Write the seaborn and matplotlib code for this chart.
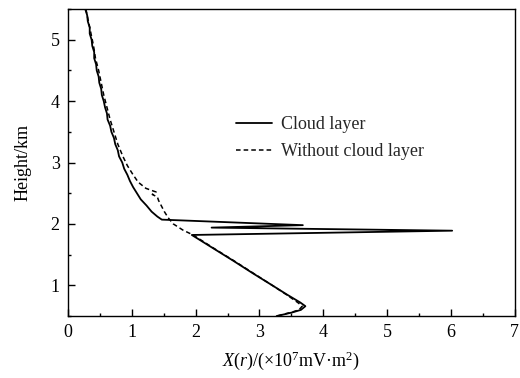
import numpy as np
import pandas as pd
import seaborn as sns
import matplotlib
matplotlib.use("Agg")
import matplotlib.pyplot as plt
from matplotlib.ticker import MultipleLocator

# Cloud layer (solid)
cloud_h = [5.50, 5.40, 5.30, 5.20, 5.10, 5.00, 4.90, 4.80, 4.70, 4.60, 4.50, 4.40, 4.30, 4.20,
           4.10, 4.00, 3.90, 3.80, 3.70, 3.60, 3.50, 3.40, 3.30, 3.20, 3.10, 3.00, 2.90, 2.80,
           2.70, 2.60, 2.50, 2.40, 2.30, 2.20, 2.12, 2.07, 1.98, 1.94, 1.89, 1.82, 1.60, 1.40,
           1.20, 1.00, 0.85, 0.72, 0.66, 0.60, 0.56, 0.53, 0.50]
cloud_x = [0.27, 0.30, 0.31, 0.34, 0.34, 0.37, 0.38, 0.41, 0.41, 0.44, 0.45, 0.48, 0.49, 0.52,
           0.53, 0.56, 0.58, 0.61, 0.62, 0.66, 0.68, 0.72, 0.74, 0.78, 0.80, 0.85, 0.88, 0.93,
           0.97, 1.02, 1.08, 1.14, 1.23, 1.31, 1.40, 1.47, 3.68, 2.25, 6.02, 1.94, 2.28, 2.59,
           2.89, 3.20, 3.43, 3.64, 3.72, 3.65, 3.52, 3.40, 3.27]

# Without cloud layer (dashed)
clear_h = [5.50, 5.30, 5.10, 4.90, 4.70, 4.50, 4.30, 4.10, 3.90, 3.70, 3.50, 3.30, 3.10,
           2.95, 2.80, 2.68, 2.58, 2.52, 2.48, 2.44, 2.38, 2.30, 2.20, 2.10, 2.00, 1.90,
           1.82, 1.60, 1.40, 1.20, 1.00, 0.85, 0.72, 0.66, 0.60, 0.56, 0.53, 0.50]
clear_x = [0.28, 0.32, 0.36, 0.40, 0.43, 0.48, 0.52, 0.56, 0.61, 0.66, 0.72, 0.78, 0.86,
           0.93, 1.02, 1.10, 1.22, 1.38, 1.32, 1.40, 1.42, 1.46, 1.51, 1.57, 1.65, 1.80,
           1.96, 2.29, 2.60, 2.90, 3.20, 3.42, 3.60, 3.67, 3.62, 3.50, 3.38, 3.28]

x_ticks = [0, 1, 2, 3, 4, 5, 6, 7]
y_ticks = [1, 2, 3, 4, 5]
legend_labels = ["Cloud layer", "Without cloud layer"]

sns.set_theme(style="white")
plt.rcParams['font.family'] = ['Liberation Serif', 'DejaVu Serif']
plt.rcParams['mathtext.fontset'] = 'custom'
plt.rcParams['mathtext.rm'] = 'Liberation Serif'
plt.rcParams['mathtext.it'] = 'Liberation Serif:italic'

fig = plt.figure(figsize=(5.2, 3.78), dpi=100)
ax = fig.add_axes([0.1308, 0.164, 0.859, 0.812])

df1 = pd.DataFrame({"x": cloud_x, "h": cloud_h})
df2 = pd.DataFrame({"x": clear_x, "h": clear_h})
sns.lineplot(data=df1, x="x", y="h", sort=False, estimator=None, ax=ax,
             color="black", linewidth=1.3, label=legend_labels[0])
sns.lineplot(data=df2, x="x", y="h", sort=False, estimator=None, ax=ax,
             color="black", linewidth=1.1, linestyle=(0, (3, 2)), label=legend_labels[1])

ax.set_xlim(0, 7)
ax.set_ylim(0.5, 5.5)
ax.set_xticks(x_ticks)
ax.set_yticks(y_ticks)
ax.xaxis.set_minor_locator(MultipleLocator(0.5))
ax.yaxis.set_minor_locator(MultipleLocator(0.5))
ax.tick_params(which='major', direction='in', length=5, width=1, colors='black',
               labelsize=13, top=False, right=False, bottom=True, left=True, pad=6)
ax.tick_params(which='minor', direction='in', length=2.5, width=1, colors='black',
               top=False, right=False, bottom=True, left=True)
for s in ax.spines.values():
    s.set_color('black')
    s.set_linewidth(1.0)

ax.set_xlabel(r'$X(r)$/(×10$^{7}$mV·m$^{2}$)', fontsize=13, color='black', labelpad=6)
ax.set_ylabel('Height/km', fontsize=13, color='black', labelpad=14)

leg = ax.legend(loc='upper left', bbox_to_anchor=(0.36, 0.675), frameon=False,
                fontsize=13, handlelength=2.0, handletextpad=0.5, labelspacing=0.55,
                borderaxespad=0)

fig.savefig("out.png", dpi=100)
